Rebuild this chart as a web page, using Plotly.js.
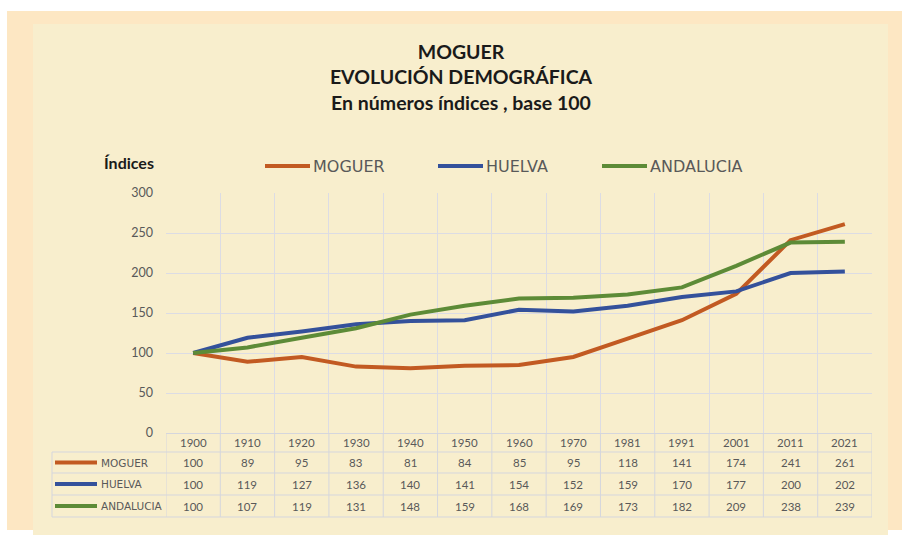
<!DOCTYPE html>
<html>
<head>
<meta charset="utf-8">
<script src="https://cdn.plot.ly/plotly-3.0.1.min.js"></script>
<style>
  html, body { margin:0; padding:0; background:#ffffff; }
  #outer { position:absolute; left:7px; top:11px; width:895px; height:519px; background:#fde7c3; }
  #inner { position:absolute; left:33px; top:24px; width:855px; height:511px; background:#f8eecd; }
  #chart { position:absolute; left:0; top:0; width:902px; height:535px; }
</style>
</head>
<body>
<div id="outer"></div>
<div id="inner"></div>
<div id="chart"></div>
<script>
// ---- data ----
const years = ['1900','1910','1920','1930','1940','1950','1960','1970','1981','1991','2001','2011','2021'];
const moguer    = [100, 89, 95, 83, 81, 84, 85, 95, 118, 141, 174, 241, 261];
const huelva    = [100, 119, 127, 136, 140, 141, 154, 152, 159, 170, 177, 200, 202];
const andalucia = [100, 107, 119, 131, 148, 159, 168, 169, 173, 182, 209, 238, 239];
const seriesNames  = ['MOGUER', 'HUELVA', 'ANDALUCIA'];
const seriesValues = [moguer, huelva, andalucia];
const seriesColors = ['#c25a22', '#34519b', '#5d8b37'];

const titleText = 'MOGUER<br>EVOLUCIÓN DEMOGRÁFICA<br>En números índices , base 100';
const yLabel = 'Índices';

// ---- geometry helpers (plot area: x 166..872, y 193..433) ----
const PL = 166, PR = 872, PT = 193, PB = 433;
const px2paperX = p => (p - PL) / (PR - PL);
const px2paperY = p => (PB - p) / (PB - PT);

const gridColor = '#dcdce4';
const tableColor = '#d5d6dd';
const textGray = '#595959';

const traces = seriesNames.map((n, k) => ({
  type: 'scatter', mode: 'lines', name: n,
  x: years, y: seriesValues[k],
  line: { color: seriesColors[k], width: 4 },
  showlegend: false
}));

// table rows (pixel y boundaries)
const rowEdges = [433, 452, 473, 495, 517];
const headerCenter = (rowEdges[0] + rowEdges[1]) / 2;
const rowCenters = [1, 2, 3].map(i => (rowEdges[i] + rowEdges[i + 1]) / 2);
const tableLeft = 52;

const shapes = [];
// vertical lines of table (category boundaries)
for (let i = 0; i <= years.length; i++) {
  shapes.push({ type: 'line', xref: 'x', yref: 'paper', x0: i - 0.5, x1: i - 0.5,
    y0: px2paperY(rowEdges[0]), y1: px2paperY(rowEdges[4]), line: { color: tableColor, width: 1 }, layer: 'below' });
}
// left edge of table
shapes.push({ type: 'line', xref: 'paper', yref: 'paper', x0: px2paperX(tableLeft), x1: px2paperX(tableLeft),
  y0: px2paperY(rowEdges[1]), y1: px2paperY(rowEdges[4]), line: { color: tableColor, width: 1 }, layer: 'below' });
// horizontal lines
for (let r = 1; r < rowEdges.length; r++) {
  shapes.push({ type: 'line', xref: 'paper', yref: 'paper', x0: px2paperX(tableLeft), x1: 1,
    y0: px2paperY(rowEdges[r]), y1: px2paperY(rowEdges[r]), line: { color: tableColor, width: 1 }, layer: 'below' });
}
// row-label legend keys
seriesNames.forEach((n, k) => {
  shapes.push({ type: 'line', xref: 'paper', yref: 'paper', x0: px2paperX(55), x1: px2paperX(97),
    y0: px2paperY(rowCenters[k]), y1: px2paperY(rowCenters[k]), line: { color: seriesColors[k], width: 4 } });
});

// top legend (keys + names)
const legendStarts = [265, 438, 602];
const legendY = 166;
seriesNames.forEach((n, k) => {
  shapes.push({ type: 'line', xref: 'paper', yref: 'paper', x0: px2paperX(legendStarts[k]), x1: px2paperX(legendStarts[k] + 45),
    y0: px2paperY(legendY), y1: px2paperY(legendY), line: { color: seriesColors[k], width: 4 } });
});

const annotations = [];
const cellFont = { family: 'Lato, sans-serif', size: 11.5, color: textGray };
years.forEach((yr, i) => {
  annotations.push({ xref: 'x', yref: 'paper', x: i, y: px2paperY(headerCenter), text: yr,
    showarrow: false, font: cellFont, xanchor: 'center', yanchor: 'middle' });
  seriesValues.forEach((vals, k) => {
    annotations.push({ xref: 'x', yref: 'paper', x: i, y: px2paperY(rowCenters[k]), text: String(vals[i]),
      showarrow: false, font: cellFont, xanchor: 'center', yanchor: 'middle' });
  });
});
seriesNames.forEach((n, k) => {
  annotations.push({ xref: 'paper', yref: 'paper', x: px2paperX(99), y: px2paperY(rowCenters[k]), text: n,
    showarrow: false, font: { family: 'DejaVu Sans, sans-serif', size: 10.5, color: textGray },
    xanchor: 'left', yanchor: 'middle' });
  annotations.push({ xref: 'paper', yref: 'paper', x: px2paperX(legendStarts[k] + 46), y: px2paperY(legendY), text: n,
    showarrow: false, font: { family: 'DejaVu Sans, sans-serif', size: 16, color: textGray },
    xanchor: 'left', yanchor: 'middle' });
});
annotations.push({ xref: 'paper', yref: 'paper', x: px2paperX(102), y: px2paperY(162), text: '<b>' + yLabel + '</b>',
  showarrow: false, font: { family: 'Lato, sans-serif', size: 16, color: '#1a1a1a' }, xanchor: 'left', yanchor: 'middle' });

const layout = {
  width: 902, height: 535,
  margin: { l: PL, r: 902 - PR, t: PT, b: 535 - PB, pad: 0 },
  paper_bgcolor: 'rgba(0,0,0,0)', plot_bgcolor: 'rgba(0,0,0,0)',
  title: { text: titleText, font: { family: 'Lato, sans-serif', size: 19.5, weight: 700, color: '#1a1a1a' },
    x: 461 / 902, xref: 'container', xanchor: 'center', y: 1 - 59 / 535, yref: 'container', yanchor: 'top' },
  showlegend: false,
  xaxis: { type: 'category', range: [-0.5, years.length - 0.5], tickson: 'boundaries', showgrid: true,
    gridcolor: gridColor, gridwidth: 1, showticklabels: false, ticks: '', showline: false, zeroline: false, fixedrange: true },
  yaxis: { range: [0, 300], dtick: 50, showgrid: true, gridcolor: gridColor, gridwidth: 1, zeroline: true,
    zerolinecolor: tableColor, zerolinewidth: 1, showline: false, ticks: '', ticklabelstandoff: 12,
    tickfont: { family: 'Lato, sans-serif', size: 12.5, color: textGray }, fixedrange: true },
  shapes: shapes,
  annotations: annotations
};

Plotly.newPlot('chart', traces, layout, { displayModeBar: false, staticPlot: true });
</script>
</body>
</html>
